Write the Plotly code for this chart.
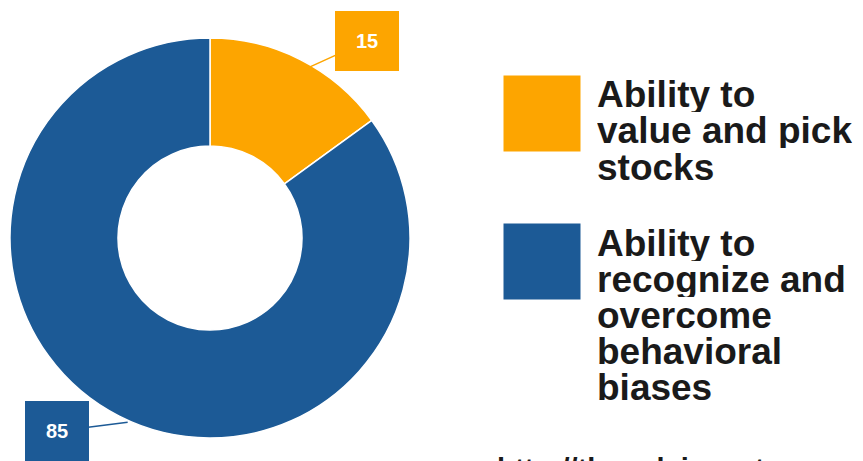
import math
import plotly.graph_objects as go

# ---- data ----
labels = ["Ability to value and pick stocks",
          "Ability to recognize and overcome behavioral biases"]
values = [15, 85]
colors = ["#FDA500", "#1C5A96"]
legend_lines = [["Ability to", "value and pick", "stocks"],
                ["Ability to", "recognize and", "overcome", "behavioral", "biases"]]
source_text = "http://theonlyinvestor.com"

W, H = 863, 461
# pie domain in pixels
dx0, dx1 = 2, 402
dy0, dy1 = 30, 430
cx, cy = (dx0 + dx1) / 2 + 8, (dy0 + dy1) / 2 + 7
R = (dx1 - dx0) / 2 - 1

fig = go.Figure(go.Pie(
    labels=labels, values=values, hole=0.46, sort=False,
    direction="clockwise", rotation=0,
    marker=dict(colors=colors, line=dict(color="white", width=1.5)),
    textinfo="none", hoverinfo="label+value", showlegend=False,
    domain=dict(x=[dx0 / W, dx1 / W], y=[1 - dy1 / H, 1 - dy0 / H]),
))

annotations = []
# callout labels at slice mid-angles computed from the data
total = sum(values)
cum = 0
offsets = [(59, -27), (-71, 9)]
for v, c, (ox, oy) in zip(values, colors, offsets):
    mid = (cum + v / 2) / total * 2 * math.pi
    cum += v
    px = cx + R * math.sin(mid)
    py = cy - R * math.cos(mid)
    annotations.append(dict(
        x=px / W, y=1 - py / H, xref="paper", yref="paper",
        text=f"<b>{v}</b>", showarrow=True, ax=ox, ay=oy,
        arrowhead=0, arrowwidth=1.5, arrowcolor=c, standoff=0,
        bgcolor=c, bordercolor=c, borderpad=3, width=56, height=52,
        font=dict(family="Liberation Sans, Arial", size=20, color="white"),
    ))

# legend (swatches + text lines)
swatch_tops = [67, 215]
line_h = 36
for c, top, lines in zip(colors, swatch_tops, legend_lines):
    annotations.append(dict(
        x=495 / W, y=1 - top / H, xref="paper", yref="paper",
        xanchor="left", yanchor="top", text=" ", showarrow=False,
        bgcolor=c, width=76, height=75, borderpad=0,
        font=dict(size=10),
    ))
    base = top + 20
    for i, ln in enumerate(lines):
        annotations.append(dict(
            x=588 / W, y=1 - (base + i * line_h) / H,
            xref="paper", yref="paper", xanchor="left", yanchor="middle",
            text=f"<b>{ln}</b>", showarrow=False, height=line_h - 1,
            borderpad=0,
            font=dict(family="Liberation Sans, Arial", size=37, color="#1a1a1a"),
        ))

annotations.append(dict(
    x=487 / W, y=1 - 443 / H, xref="paper", yref="paper",
    xanchor="left", yanchor="top", text=f"<b>{source_text}</b>",
    showarrow=False,
    font=dict(family="Liberation Sans, Arial", size=29, color="#1a1a1a"),
))

fig.update_layout(
    width=W, height=H, margin=dict(l=0, r=0, t=0, b=0),
    paper_bgcolor="white", plot_bgcolor="white",
    annotations=annotations,
)
fig.write_html("out.html")
